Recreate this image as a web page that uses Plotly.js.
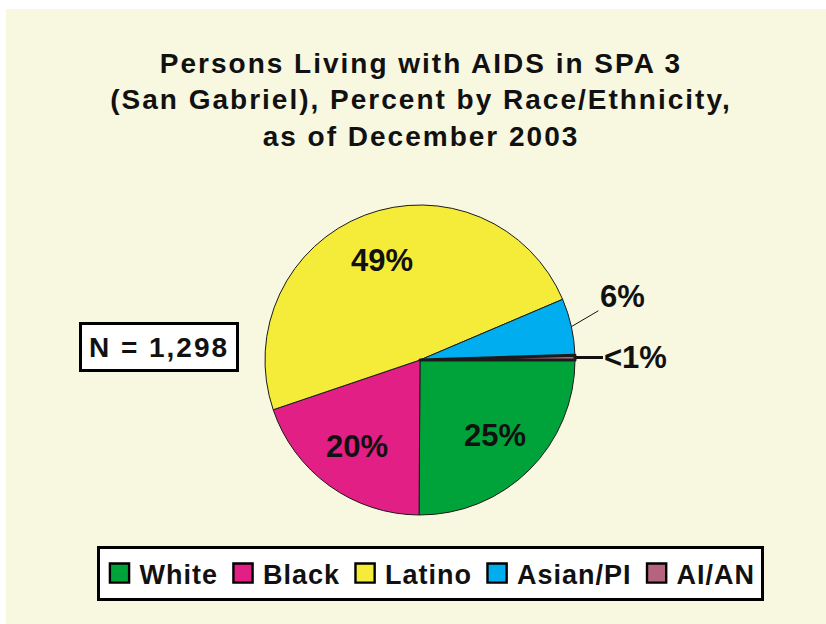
<!DOCTYPE html>
<html>
<head>
<meta charset="utf-8">
<script src="https://cdn.plot.ly/plotly-3.0.1.min.js"></script>
<style>
html,body{margin:0;padding:0;background:#fff;}
#chart{width:826px;height:624px;}
path.legendpie{transform:translate(20px,0px) scale(1.6);stroke:#000 !important;stroke-width:1.5px !important;}
</style>
</head>
<body>
<div id="chart"></div>
<script>
// ---- data ----
const categories = ["White", "Black", "Latino", "Asian/PI", "AI/AN"];
const percents = [25.1, 19.7, 48.8, 5.9, 0.5];
const sliceLabels = ["25%", "20%", "49%", "6%", "<1%"];
const titleLines = ["Persons Living with AIDS in SPA 3", "(San Gabriel), Percent by Race/Ethnicity,", "as of December 2003"];
const noteText = "N = 1,298";

// ---- styles ----
const sliceColors = ["#00A33A", "#E21F84", "#F5EC3A", "#00AEEF", "#B5637E"];
const sliceLineWidths = [1, 1, 1, 1, 3];
const labelInside = [true, true, true, false, false];
const outsideOffsets = [null, null, null, [51, -30], [61, 0]];
const outsideArrowWidths = [null, null, null, 1, 3];

const W = 826, H = 624;
const CX = 420, CY = 360, R = 155;
const font = "Liberation Sans, Arial, Helvetica, sans-serif";
const spaced = (s, px) => '<span style="letter-spacing:' + px + 'px">' + s + '</span>';

const trace = {
  type: "pie",
  labels: categories.map(c => spaced(c, 1)),
  values: percents,
  textinfo: "none",
  sort: false,
  direction: "clockwise",
  rotation: 90,
  hoverinfo: "none",
  marker: { colors: sliceColors, line: { color: "#1a1a1a", width: sliceLineWidths } },
  domain: { x: [(CX - R) / W, (CX + R) / W], y: [(H - CY - R) / H, (H - CY + R) / H] }
};

// label positions derived from the data through the pie geometry
const total = percents.reduce((a, b) => a + b, 0);
let cum = 0;
const labelAnnotations = percents.map((v, i) => {
  const mid = (cum + v / 2) / total;
  cum += v;
  const ang = -2 * Math.PI * mid; // clockwise from 3 o'clock
  const rr = labelInside[i] ? 0.69 * R : R;
  const px = CX + rr * Math.cos(ang);
  const py = CY - rr * Math.sin(ang);
  const a = {
    text: sliceLabels[i], xref: "paper", yref: "paper",
    x: px / W, y: 1 - py / H,
    font: { family: font, size: 31, color: "#111", weight: "bold" }
  };
  if (labelInside[i]) {
    a.showarrow = false; a.xanchor = "center"; a.yanchor = "middle";
  } else {
    a.showarrow = true; a.arrowhead = 0; a.arrowcolor = "#111";
    a.arrowwidth = outsideArrowWidths[i];
    a.ax = outsideOffsets[i][0]; a.ay = outsideOffsets[i][1];
    a.standoff = 0;
  }
  return a;
});

const layout = {
  width: W, height: H,
  margin: { l: 0, r: 0, t: 0, b: 0 },
  paper_bgcolor: "#ffffff",
  font: { family: font, color: "#111" },
  title: {
    text: titleLines.map(t => spaced(t, 2)).join("<br>"),
    font: { family: font, size: 28, color: "#111", weight: "bold" },
    x: 421 / W, xanchor: "center",
    y: 1 - 73 / H, yanchor: "top"
  },
  showlegend: true,
  legend: {
    orientation: "h",
    x: 430 / W, xanchor: "center",
    y: 1 - 546 / H, yanchor: "top",
    bgcolor: "#ffffff",
    bordercolor: "#000",
    borderwidth: 3,
    font: { family: font, size: 27, color: "#111", weight: "bold" },
    itemclick: false
  },
  shapes: [{
    type: "rect", xref: "paper", yref: "paper",
    x0: 6 / W, x1: 1, y0: 0, y1: 1 - 9 / H,
    fillcolor: "#F8F7E0", line: { width: 0 }, layer: "below"
  }],
  annotations: [{
    text: spaced(noteText, 2), xref: "paper", yref: "paper",
    x: 159 / W, y: 1 - 347 / H, xanchor: "center", yanchor: "middle",
    showarrow: false,
    width: 146, height: 36,
    font: { family: font, size: 28, color: "#111", weight: "bold" },
    bgcolor: "#ffffff", bordercolor: "#000", borderwidth: 3, borderpad: 4
  }].concat(labelAnnotations)
};

Plotly.newPlot("chart", [trace], layout, { displayModeBar: false, staticPlot: true });
</script>
</body>
</html>
